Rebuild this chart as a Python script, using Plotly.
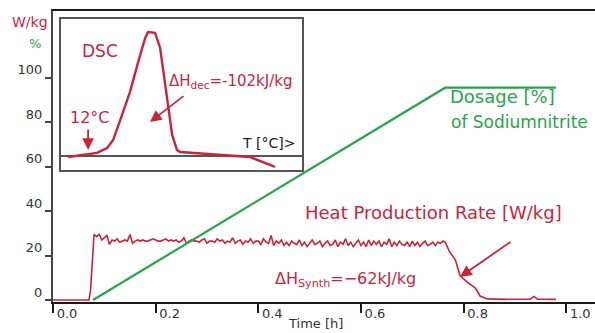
import numpy as np
import plotly.graph_objects as go

# ---------------- data ----------------
# Heat production rate [W/kg] vs time [h]
heat_start_t = [0.0, 0.035, 0.070, 0.073, 0.077, 0.080]
heat_start_v = [0.0, 0.0, 0.0, 4.0, 20.0, 29.5]

plateau_t0 = 0.085
plateau_dt = 0.005
heat_plateau_v = [
    28.5, 29.5, 27.0, 28.0, 29.0, 25.0, 27.0, 26.5, 27.5, 26.0,
    26.5, 27.0, 26.5, 29.5, 25.5, 26.5, 27.0, 26.5, 27.0, 26.5,
    26.5, 27.0, 27.5, 27.0, 26.5, 26.5, 27.0, 27.5, 26.5, 27.0,
    26.5, 27.0, 26.0, 26.5, 28.0, 25.5, 26.5, 27.0, 26.5, 26.5,
    26.0, 27.0, 27.5, 25.5, 26.5, 26.5, 26.0, 27.5, 26.5, 27.0,
    25.5, 26.5, 26.0, 28.0, 25.5, 26.5, 27.0, 25.0, 26.5, 26.0,
    27.5, 25.5, 26.5, 26.5, 25.0, 27.5, 26.0, 25.5, 29.0, 24.5,
    26.5, 25.5, 27.0, 24.5, 26.0, 24.5, 26.5, 25.5, 25.0, 27.0,
    24.5, 26.0, 24.0, 25.5, 27.0, 25.0, 25.5, 26.5, 24.0, 25.5,
    26.5, 24.5, 25.0, 27.0, 24.0, 26.0, 25.0, 27.5, 24.5, 26.0,
    24.0, 25.5, 27.0, 24.5, 26.0, 24.0, 27.0, 24.5, 26.5, 25.0,
    26.5, 24.0, 26.0, 25.0, 27.5, 24.0, 26.0, 24.5, 26.5, 25.0,
    24.5, 26.0, 24.0, 26.5, 24.5, 26.0, 24.0, 25.5, 26.5, 24.5,
    25.0, 26.0, 24.5, 26.0, 25.5,
]

heat_end_t = [0.760, 0.764, 0.772, 0.784, 0.793, 0.807, 0.823, 0.832, 0.846,
              0.880, 0.930, 0.937, 0.944, 0.980]
heat_end_v = [26.5, 26.0, 22.0, 18.0, 11.0, 8.0, 5.4, 1.8, 0.5,
              0.3, 0.4, 1.6, 0.4, 0.3]

# Dosage of sodium nitrite [%]
dosage_t = [0.078, 0.764, 0.980]
dosage_v = [0.0, 95.5, 95.5]

# DSC inset curve (arbitrary temperature / heat-flow units)
dsc_T = [2.9, 14.9, 19.1, 21.6, 25.3, 28.6, 32.0, 34.9, 36.1, 39.0,
         41.1, 44.0, 46.1, 48.1, 49.4, 78.4, 88.8]
dsc_Q = [-0.7, 2.0, 5.3, 10.6, 27.2, 42.4, 62.3, 78.1, 82.1, 81.5,
         71.5, 38.4, 13.9, 4.0, 2.6, -0.7, -7.3]

x_ticks = [0.0, 0.2, 0.4, 0.6, 0.8, 1.0]
y_ticks = [0, 20, 40, 60, 80, 100]

# ---------------- styling ----------------
RED = "#c8253a"
GREEN = "#27a44a"
DARK = "#333333"
FONT = "DejaVu Sans"

plateau_t = [round(plateau_t0 + plateau_dt * i, 4) for i in range(len(heat_plateau_v))]
heat_t = heat_start_t + plateau_t + heat_end_t
heat_v = heat_start_v + heat_plateau_v + heat_end_v

fig = go.Figure()

fig.add_trace(go.Scatter(x=dosage_t, y=dosage_v, mode="lines",
                         line=dict(color=GREEN, width=2.2),
                         xaxis="x3", yaxis="y", hoverinfo="skip"))
fig.add_trace(go.Scatter(x=heat_t, y=heat_v, mode="lines",
                         line=dict(color=RED, width=1.6),
                         xaxis="x", yaxis="y", hoverinfo="skip"))
fig.add_trace(go.Scatter(x=dsc_T, y=dsc_Q, mode="lines",
                         line=dict(color=RED, width=2.4),
                         xaxis="x2", yaxis="y2", hoverinfo="skip"))

annotations = [
    # axis titles
    dict(text="W/kg", x=-0.0424, y=0.962, xref="paper", yref="paper",
         xanchor="center", yanchor="middle",
         showarrow=False, font=dict(color=RED, size=14, family=FONT)),
    dict(text="%", x=-0.0332, y=0.890, xref="paper", yref="paper",
         xanchor="center", yanchor="middle",
         showarrow=False, font=dict(color=GREEN, size=13, family=FONT)),
    dict(text="Time [h]", x=0.4834, y=-0.0722, xref="paper", yref="paper",
         xanchor="center", yanchor="middle",
         showarrow=False, font=dict(color=DARK, size=13, family=FONT)),
    # main plot labels
    dict(text="Dosage [%]", x=0.770, y=91.4, xref="x", yref="y",
         xanchor="left", yanchor="middle", showarrow=False,
         font=dict(color=GREEN, size=18, family=FONT)),
    dict(text="of Sodiumnitrite", x=0.772, y=80.2, xref="x", yref="y",
         xanchor="left", yanchor="middle", showarrow=False,
         font=dict(color=GREEN, size=17, family=FONT)),
    dict(text="Heat Production Rate [W/kg]", x=0.487, y=39.2, xref="x", yref="y",
         xanchor="left", yanchor="middle", showarrow=False,
         font=dict(color=RED, size=18, family=FONT)),
    dict(text="ΔH<sub>Synth</sub>=−62kJ/kg", x=0.429, y=9.0, xref="x", yref="y",
         xanchor="left", yanchor="middle", showarrow=False,
         font=dict(color=RED, size=16, family=FONT)),
    dict(text="", x=0.793, y=10.4, xref="x", yref="y", showarrow=True,
         ax=52, ay=-36, arrowhead=2, arrowsize=1.3, arrowwidth=1.8, arrowcolor=RED),
    # inset labels
    dict(text="DSC", x=7.9, y=69.5, xref="x2", yref="y2",
         xanchor="left", yanchor="middle", showarrow=False,
         font=dict(color=RED, size=17, family=FONT)),
    dict(text="12°C", x=2.9, y=25.8, xref="x2", yref="y2",
         xanchor="left", yanchor="middle", showarrow=False,
         font=dict(color=RED, size=16, family=FONT)),
    dict(text="", x=11.2, y=4.0, xref="x2", yref="y2", showarrow=True,
         ax=0, ay=-22, arrowhead=2, arrowsize=1.3, arrowwidth=1.8, arrowcolor=RED),
    dict(text="ΔH<sub>dec</sub>=-102kJ/kg", x=44.0, y=49.0, xref="x2", yref="y2",
         xanchor="left", yanchor="middle", showarrow=False,
         font=dict(color=RED, size=15, family=FONT)),
    dict(text="", x=36.9, y=22.5, xref="x2", yref="y2", showarrow=True,
         ax=35, ay=-27, arrowhead=2, arrowsize=1.3, arrowwidth=1.8, arrowcolor=RED),
    dict(text="T [°C]&gt;", x=97.9, y=8.6, xref="x2", yref="y2",
         xanchor="right", yanchor="middle", showarrow=False,
         font=dict(color="#222222", size=14, family=FONT)),
]

fig.update_layout(
    width=595, height=333,
    margin=dict(l=53, r=0, t=11, b=31),
    paper_bgcolor="white", plot_bgcolor="white",
    showlegend=False,
    font=dict(family=FONT, color=DARK),
    # main x axis: line + tick marks (no labels)
    xaxis=dict(range=[0, 1.056], tickvals=x_ticks,
               showgrid=False, zeroline=False, showticklabels=False,
               showline=True, mirror=True, linecolor="#1a1a1a", linewidth=2,
               ticks="outside", ticklen=9, tickwidth=1.5, tickcolor="#1a1a1a",
               anchor="y"),
    # overlaying x axis: tick labels placed tight to the axis, right of the tick
    xaxis3=dict(range=[0, 1.056], tickvals=x_ticks, tickformat=".1f",
                overlaying="x", anchor="y", side="bottom",
                showgrid=False, zeroline=False, showline=False, ticks="",
                ticklabelshift=14, ticklabelstandoff=2,
                tickfont=dict(size=13, color=DARK, family=FONT)),
    yaxis=dict(range=[-0.9, 130], tickvals=y_ticks,
               showgrid=False, zeroline=False,
               showline=True, linecolor="#444444", linewidth=2,
               ticks="outside", ticklen=6, tickwidth=1.5, tickcolor="#444444",
               ticklabelshift=-8, tickfont=dict(size=13, color=DARK, family=FONT),
               anchor="x"),
    xaxis2=dict(domain=[0.015, 0.4594], range=[0, 100], anchor="y2",
                showgrid=False, zeroline=False, showticklabels=False, ticks="",
                showline=True, mirror=True, linecolor="#555555", linewidth=1.5),
    yaxis2=dict(domain=[0.4536, 0.9725], range=[-9.3, 90.7], anchor="x2",
                showgrid=False, zeroline=True, zerolinecolor="#555555", zerolinewidth=1.5,
                showticklabels=False, ticks="",
                showline=True, mirror=True, linecolor="#555555", linewidth=1.5),
    annotations=annotations,
)

fig.write_html("out.html")
